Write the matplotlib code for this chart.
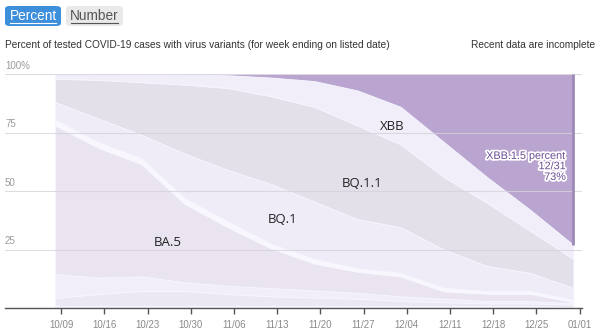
import numpy as np
import matplotlib
matplotlib.use("Agg")
import matplotlib.pyplot as plt
import matplotlib.dates as mdates
import matplotlib.patheffects as pe
from matplotlib.patches import FancyBboxPatch
from matplotlib.lines import Line2D

# week ending dates
weeks = np.array(["2022-10-08", "2022-10-15", "2022-10-22", "2022-10-29", "2022-11-05",
                  "2022-11-12", "2022-11-19", "2022-11-26", "2022-12-03", "2022-12-10",
                  "2022-12-17", "2022-12-24", "2022-12-31"], dtype="datetime64[D]")

# variant shares in percent, bottom of the stack first
other_a = [1.0, 1.0, 1.0, 1.0, 1.0, 1.0, 1.0, 1.0, 1.0, 0.8, 0.8, 0.8, 0.5]
other_b = [3.3, 5.0, 6.3, 6.3, 5.0, 4.0, 3.5, 3.0, 2.0, 1.7, 1.2, 1.2, 1.0]
other_c = [10.2, 7.0, 6.2, 3.7, 3.5, 3.5, 3.0, 2.5, 2.0, 1.5, 1.0, 1.0, 0.5]
ba5 = [63.5, 55.5, 48.0, 33.5, 25.0, 17.0, 11.5, 9.0, 8.5, 3.1, 3.1, 3.1, 0.5]
other_d = [2.5, 2.5, 2.5, 2.5, 2.5, 2.0, 2.0, 1.5, 1.5, 1.5, 1.2, 1.2, 1.0]
bq1 = [7.5, 10.0, 10.0, 19.0, 22.0, 25.5, 24.5, 21.0, 19.5, 16.4, 10.7, 7.7, 5.1]
bq11 = [10.0, 16.5, 22.5, 29.5, 35.0, 37.5, 40.5, 40.0, 35.5, 31.0, 27.0, 18.0, 12.4]
xbb = [2.0, 2.5, 3.3, 4.2, 5.5, 8.0, 11.0, 15.0, 16.0, 15.0, 11.0, 9.0, 6.0]
xbb15 = [0.0, 0.0, 0.2, 0.3, 0.5, 1.5, 3.0, 7.0, 14.0, 29.0, 44.0, 58.0, 73.0]

layers = [other_a, other_b, other_c, ba5, other_d, bq1, bq11, xbb, xbb15]
colors = ["#f3f0fa", "#ece8f3", "#f1eef9", "#e9e4f0", "#f9f6fd",
          "#efebf7", "#e4e0ea", "#f2eef9", "#b9a5cf"]

tick_days = np.array(["2022-10-09", "2022-10-16", "2022-10-23", "2022-10-30", "2022-11-06",
                      "2022-11-13", "2022-11-20", "2022-11-27", "2022-12-04", "2022-12-11",
                      "2022-12-18", "2022-12-25", "2023-01-01"], dtype="datetime64[D]")
tick_labels = ["10/09", "10/16", "10/23", "10/30", "11/06", "11/13", "11/20",
               "11/27", "12/04", "12/11", "12/18", "12/25", "01/01"]

y_ticks = [25, 50, 75, 100]
y_labels = ["25", "50", "75", "100%"]

variant_labels = ["XBB", "BQ.1.1", "BQ.1", "BA.5"]

x = mdates.date2num(weeks)
x0 = x[0]

fig = plt.figure(figsize=(6, 3.35), dpi=100)
ax = fig.add_axes([5 / 600, 1 - 308 / 335, 577 / 600, 234 / 335])

ax.stackplot(x, *layers, colors=colors, edgecolor="#f5f6ff", linewidth=0.6)

# darker right edge of the XBB.1.5 band
top_xbb = 100 - xbb15[-1]
ax.plot([x[-1], x[-1]], [top_xbb, 100], color="#9c89b4", lw=2, zorder=3,
        solid_capstyle="butt")

ax.set_xlim(x0 - 8.1, x0 + 85.4)
ax.set_ylim(0, 100)

for v, lab in zip(y_ticks, y_labels):
    ax.axhline(v, color="#d6d2dc", lw=0.8, alpha=0.8, zorder=2)
    ax.annotate(lab, xy=(0, v), xycoords=("axes fraction", "data"),
                xytext=(0, 2.5), textcoords="offset points", ha="left", va="bottom",
                fontsize=7, color="#9a9a9a", family="Liberation Sans")

for s in ["left", "right", "top"]:
    ax.spines[s].set_visible(False)
ax.spines["bottom"].set_color("#555555")
ax.spines["bottom"].set_linewidth(1)
ax.set_yticks([])
ax.set_xticks(mdates.date2num(tick_days))
ax.set_xticklabels(tick_labels)
ax.tick_params(axis="x", direction="out", length=4, width=1, color="#555555",
               labelsize=7, labelcolor="#8a8a8a", pad=5)
for t in ax.get_xticklabels():
    t.set_family("Liberation Sans")

# variant labels inside bands
label_pos = [(54.6, 77.4), (49.7, 53.4), (36.9, 38.0), (18.3, 27.8)]
for lab, (dx, yv) in zip(variant_labels, label_pos):
    ax.text(x0 + dx, yv, lab, ha="center", va="center", fontsize=9.5,
            color="#222222", family="Open Sans", zorder=4)

halo = [pe.withStroke(linewidth=2.5, foreground="white")]
for yv, txt in zip([65.0, 60.6, 56.0], ["XBB.1.5 percent", "12/31", f"{xbb15[-1]:.0f}%"]):
    ax.text(x0 + 82.8, yv, txt, ha="right", va="center", fontsize=7.8,
            color="#6a4c93", family="Liberation Sans", path_effects=halo, zorder=5)

# header buttons
btn1 = FancyBboxPatch((5 / 600, 1 - 26 / 335), 56 / 600, 20 / 335,
                      boxstyle="round,pad=0,rounding_size=0.008",
                      transform=fig.transFigure, facecolor="#3d8fdc", edgecolor="none")
btn2 = FancyBboxPatch((66 / 600, 1 - 26 / 335), 57 / 600, 20 / 335,
                      boxstyle="round,pad=0,rounding_size=0.008",
                      transform=fig.transFigure, facecolor="#e9e9e9", edgecolor="none")
fig.patches.extend([btn1, btn2])
fig.text(33 / 600, 1 - 16 / 335, "Percent", ha="center", va="center", fontsize=9.8,
         color="white", family="Liberation Sans")
fig.text(94.5 / 600, 1 - 16 / 335, "Number", ha="center", va="center", fontsize=9.8,
         color="#555555", family="Liberation Sans")
fig.lines.append(Line2D([10 / 600, 56 / 600], [1 - 22.5 / 335, 1 - 22.5 / 335],
                        transform=fig.transFigure, color="white", lw=0.8))
fig.lines.append(Line2D([71 / 600, 118 / 600], [1 - 22.5 / 335, 1 - 22.5 / 335],
                        transform=fig.transFigure, color="#555555", lw=0.8))

fig.text(5 / 600, 1 - 45 / 335,
         "Percent of tested COVID-19 cases with virus variants (for week ending on listed date)",
         ha="left", va="center", fontsize=7.3, color="#333333", family="Liberation Sans")
fig.text(595 / 600, 1 - 45 / 335, "Recent data are incomplete", ha="right", va="center",
         fontsize=7.3, color="#333333", family="Liberation Sans")

fig.savefig("out.png", dpi=100)
